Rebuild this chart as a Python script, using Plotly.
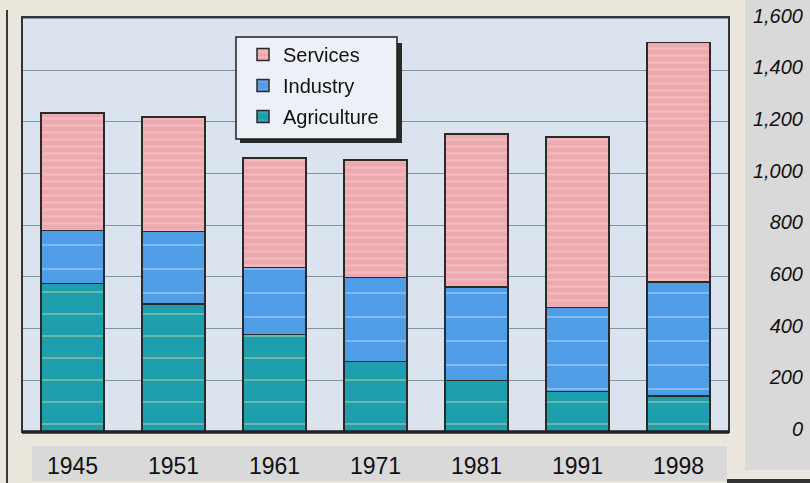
import plotly.graph_objects as go

years = ["1945", "1951", "1961", "1971", "1981", "1991", "1998"]
agriculture = [574, 496, 377, 272, 199, 156, 140]
industry = [206, 280, 260, 325, 363, 325, 441]
services = [454, 443, 423, 456, 591, 660, 927]
y_ticks = [0, 200, 400, 600, 800, 1000, 1200, 1400, 1600]

W, H = 810, 483
L, R, T, B = 22, 0, 17, 51
PW = W - L - R
PH = H - T - B


def px_x(p):
    return (p - L) / PW


def px_y(p):
    return (H - B - p) / PH


FONT = "Liberation Sans, Arial, sans-serif"
outline = dict(color="#2a2a2a", width=1.5)

fig = go.Figure()
fig.add_trace(go.Bar(
    x=years, y=agriculture, name="Agriculture", legendgroup="a", legendrank=3,
    marker=dict(color="#1e9fae", line=outline,
                pattern=dict(shape="-", fgcolor="#c9db9a", size=22, solidity=0.08)),
))
fig.add_trace(go.Bar(
    x=years, y=industry, name="Industry", legendgroup="b", legendrank=2,
    marker=dict(color="#4f9de6", line=outline,
                pattern=dict(shape="-", fgcolor="#bcd8f6", size=24, solidity=0.08)),
))
fig.add_trace(go.Bar(
    x=years, y=services, name="Services", legendgroup="c", legendrank=1,
    marker=dict(color="#eda9b0", line=outline,
                pattern=dict(shape="-", fgcolor="#f6cdcc", size=7, solidity=0.3)),
))
# invisible carrier so the right-hand label axis is drawn
fig.add_trace(go.Scatter(
    x=years, y=agriculture, yaxis="y2", mode="markers", opacity=0,
    showlegend=False, hoverinfo="skip",
))

x_end = px_x(729)

fig.update_layout(
    width=W, height=H,
    margin=dict(l=L, r=R, t=T, b=B, pad=0, autoexpand=False),
    paper_bgcolor="#ebe7dc",
    plot_bgcolor="#dbe3ee",
    barmode="stack",
    bargap=0.38,
    font=dict(family=FONT, color="#111111"),
    showlegend=True,
    legend=dict(
        x=px_x(243), y=px_y(35), xanchor="left", yanchor="top",
        bgcolor="rgba(0,0,0,0)", borderwidth=0,
        font=dict(size=20, family=FONT, color="#111111"),
        traceorder="grouped", tracegroupgap=2,
    ),
    xaxis=dict(
        domain=[0, x_end], range=[-0.5, 6.5], showgrid=False, showline=False,
        zeroline=False, ticks="", tickfont=dict(size=23, family=FONT, color="#111111"),
        ticklabelstandoff=18, automargin=False,
    ),
    yaxis=dict(
        range=[0, 1606], tickvals=y_ticks, showticklabels=False,
        showgrid=True, gridcolor="#7f96a8", gridwidth=1,
        zeroline=False, showline=False, automargin=False,
    ),
    yaxis2=dict(
        overlaying="y", anchor="free", side="left", position=px_x(805),
        range=[0, 1606], tickvals=y_ticks, tickformat=",",
        showgrid=False, zeroline=False, showline=False, ticks="",
        tickfont=dict(size=20, family=FONT, color="#111111", style="italic"),
        ticklabelshift=-3, ticklabelstandoff=2, automargin=False,
    ),
)

shapes = [
    # right gray panel
    dict(type="rect", xref="paper", yref="paper", x0=px_x(745), x1=px_x(812),
         y0=px_y(470), y1=px_y(-2), fillcolor="#d9d9d9", line=dict(width=0), layer="below"),
    # bottom gray strip behind the year labels
    dict(type="rect", xref="paper", yref="paper", x0=px_x(32), x1=px_x(727),
         y0=px_y(481), y1=px_y(446), fillcolor="#d9d9d9", line=dict(width=0), layer="below"),
    # left dark rule
    dict(type="line", xref="paper", yref="paper", x0=px_x(7), x1=px_x(7),
         y0=px_y(485), y1=px_y(10), line=dict(color="#3a3a3a", width=2)),
    # bottom dark band on the right
    dict(type="line", xref="paper", yref="paper", x0=px_x(727), x1=px_x(812),
         y0=px_y(481), y1=px_y(481), line=dict(color="#333333", width=4)),
    # plot frame
    dict(type="rect", xref="x domain", yref="y domain", x0=0, x1=1, y0=0, y1=1,
         line=dict(color="#333333", width=2)),
    # thick baseline
    dict(type="line", xref="x domain", yref="y domain", x0=0, x1=1, y0=0, y1=0,
         line=dict(color="#222222", width=3.5)),
    # legend shadow
    dict(type="rect", xref="paper", yref="paper", x0=px_x(240), x1=px_x(402),
         y0=px_y(143), y1=px_y(43), fillcolor="#2a2a2a", line=dict(width=0)),
    # legend box
    dict(type="rect", xref="paper", yref="paper", x0=px_x(236), x1=px_x(397),
         y0=px_y(139), y1=px_y(37), fillcolor="#eef0f8",
         line=dict(color="#1e1e1e", width=1.5)),
]
fig.update_layout(shapes=shapes)

fig.write_html("out.html", config={"displayModeBar": False},
               post_script="document.body.style.margin='0';")
